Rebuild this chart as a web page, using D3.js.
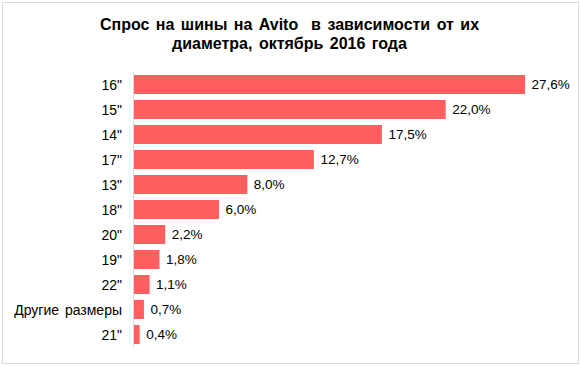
<!DOCTYPE html>
<html><head><meta charset="utf-8">
<script src="https://cdn.jsdelivr.net/npm/d3@7"></script>
<style>body{margin:0;background:#fff}svg{display:block}</style>
</head><body><svg id="c" width="581" height="366"></svg>
<script>
const categories = ["16\"", "15\"", "14\"", "17\"", "13\"", "18\"", "20\"", "19\"", "22\"", "Другие размеры", "21\""];
const values = [27.6, 22.0, 17.5, 12.7, 8.0, 6.0, 2.2, 1.8, 1.1, 0.7, 0.4];
const valueLabels = ["27,6%", "22,0%", "17,5%", "12,7%", "8,0%", "6,0%", "2,2%", "1,8%", "1,1%", "0,7%", "0,4%"];
const titleLines = ["Спрос на шины на Avito  в зависимости от их", "диаметра, октябрь 2016 года"];

const svg = d3.select("#c");
const font = "'Liberation Sans', Arial, sans-serif";
svg.append("rect").attr("x", 2.5).attr("y", 2.5).attr("width", 576).attr("height", 361)
  .attr("fill", "#fff").attr("stroke", "#d9d9d9").attr("stroke-width", 1);

const title = svg.append("text").attr("text-anchor", "middle").attr("font-family", font)
  .attr("font-weight", "bold").attr("font-size", 16).attr("fill", "#000").style("white-space", "pre")
  .attr("word-spacing", 2);
titleLines.forEach((t, i) => title.append("tspan").attr("x", 289.5).attr("y", 30 + i * 19).text(t));

const x0 = 134;
const x = d3.scaleLinear().domain([0, 27.6]).range([x0, 525]);
const y = d3.scaleBand().domain(categories).range([72, 347]).paddingInner(0.24).paddingOuter(0.12);

svg.selectAll("rect.bar").data(values).enter().append("rect").attr("class", "bar")
  .attr("x", x(0)).attr("y", (d, i) => y(categories[i]))
  .attr("width", d => x(d) - x(0)).attr("height", y.bandwidth())
  .attr("fill", "#ff5f5f");

svg.append("line").attr("x1", 133.5).attr("x2", 133.5).attr("y1", 72).attr("y2", 347)
  .attr("stroke", "#d9d9d9").attr("stroke-width", 1);

svg.selectAll("text.cat").data(categories).enter().append("text").attr("class", "cat")
  .attr("x", 122).attr("y", d => y(d) + y.bandwidth() / 2).attr("dy", "0.36em")
  .attr("text-anchor", "end").attr("font-family", font).attr("font-size", 14).attr("fill", "#000")
  .attr("word-spacing", 2)
  .text(d => d);

svg.selectAll("text.val").data(values).enter().append("text").attr("class", "val")
  .attr("x", d => x(d) + 6.5).attr("y", (d, i) => y(categories[i]) + y.bandwidth() / 2).attr("dy", "0.36em")
  .attr("font-family", font).attr("font-size", 13.5).attr("fill", "#000")
  .text((d, i) => valueLabels[i]);
</script></body></html>
